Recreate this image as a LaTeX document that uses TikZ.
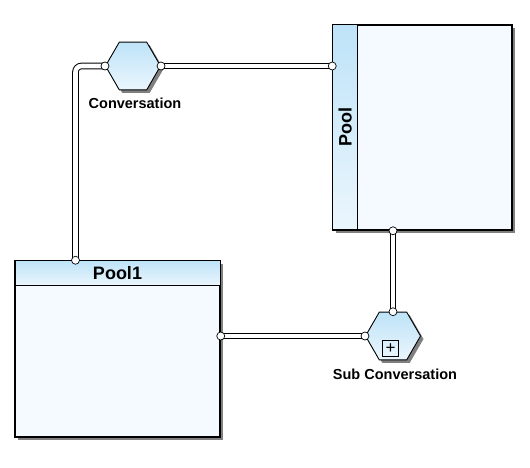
\documentclass[tikz,border=0pt]{standalone}
\usepackage{fontspec}
\setmainfont{Liberation Sans}
\usetikzlibrary{shapes.geometric, shadows}
\definecolor{laneblue}{HTML}{BEE3F8}
\definecolor{lanelight}{HTML}{EBF6FD}
\definecolor{poolfill}{HTML}{F4FAFF}

\begin{document}
\begin{tikzpicture}[x = 1pt, y = -1pt, line width = 0.9pt,
  every node/.style = { inner sep = 0pt, font = \bfseries\fontsize{14.5}{16}\selectfont },
  pool/.style = { rectangle, draw, line width = 1.5pt, fill = poolfill,
    drop shadow={shadow xshift=3pt,shadow yshift=-3pt,opacity=1,fill=gray} },
  band/.style = { rectangle, draw, line width = 1pt, top color = laneblue, bottom color = lanelight },
  conv/.style = { regular polygon, regular polygon sides = 6, minimum size = 55pt, draw,
    top color = laneblue, bottom color = lanelight,
    drop shadow={shadow xshift=3pt,shadow yshift=-3pt,opacity=1,fill=gray} },
  link/.style = { draw, line width = 1pt, double = white, double distance = 4.6pt, rounded corners = 6pt },
  port/.style = { circle, draw, fill = white, minimum size = 8pt, line width = 0.7pt }]
  \useasboundingbox (0, 0) rectangle (530, 467);

  % pools
  \node [pool, minimum width = 179pt, minimum height = 205pt] (pool) at (422.5, 127.5) {};
  \node [band, minimum width = 25pt, minimum height = 205pt, anchor = north west] (poollane) at (pool.north west) {};
  \node [rotate = 90, font = \bfseries\fontsize{18}{20}\selectfont] (poolname) at (poollane.center) {Pool};

  \node [pool, minimum width = 205pt, minimum height = 176pt] (pool1) at (117.5, 349) {};
  \node [band, minimum width = 205pt, minimum height = 25pt, anchor = north] (pool1head) at (pool1.north) {};
  \node [font = \bfseries\fontsize{18}{20}\selectfont] (pool1name) at (pool1head.center) {Pool1};

  % conversations
  \node [conv] (conv) at (133, 66) {};
  \node (convname) at (135, 103) {Conversation};
  \node [conv] (sub) at (393, 336) {};
  \node [draw, line width = 0.7pt, minimum size = 16pt, font = \normalfont\fontsize{17}{17}\selectfont] (subplus) at (390.5, 348.5) {+};
  \node (subname) at (395, 374) {Sub Conversation};

  % links
  \coordinate (bend) at (75.5, 66);
  \draw [link] (conv.west) -- (bend) -- (bend |- pool1.north);
  \draw [link] (conv.east) -- (conv.east -| pool.west);
  \draw [link] (sub.north |- pool.south) -- (sub.north);
  \draw [link] (sub.west -| pool1.east) -- (sub.west);

  \node [port] (p1) at (conv.west) {};
  \node [port] (p2) at (bend |- pool1.north) {};
  \node [port] (p3) at (conv.east) {};
  \node [port] (p4) at (conv.east -| pool.west) {};
  \node [port] (p5) at (sub.north |- pool.south) {};
  \node [port] (p6) at (sub.north) {};
  \node [port] (p7) at (sub.west -| pool1.east) {};
  \node [port] (p8) at (sub.west) {};
\end{tikzpicture}
\end{document}
